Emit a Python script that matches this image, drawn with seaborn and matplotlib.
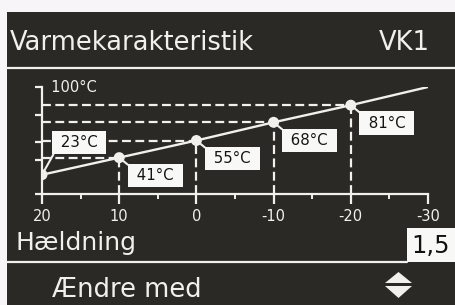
import matplotlib
matplotlib.use("Agg")
import matplotlib.pyplot as plt
import seaborn as sns
import pandas as pd
from matplotlib.patches import Rectangle, Polygon
from matplotlib.transforms import Affine2D

# ---- data ----
outdoor_temps = [20, 10, 0, -10, -20]          # x of labelled points
curve_levels = [18, 34, 50, 67, 83]            # drawn height of points (axis %)
flow_temps = [23, 41, 55, 68, 81]              # label values (°C)
line_outdoor = [20, 10, 0, -10, -20, -30]
line_levels = [18, 34, 50, 67, 83, 100]
x_ticks = [20, 10, 0, -10, -20, -30]
x_minor = [15, 5, -5, -15, -25]
y_ticks = [0, 32, 49, 74, 100]
title = "Varmekarakteristik"
circuit = "VK1"
slope_label = "Hældning"
slope_value = "1,5"
change_label = "Ændre med"

W, H = 455, 305
BG = "#2b2926"
FG = "#f2f0ec"

sns.set_style("dark")
plt.rcParams["font.family"] = ["DejaVu Sans"]

fig = plt.figure(figsize=(W / 100, H / 100), dpi=100)
fig.patch.set_facecolor("#f7f5f8")
px = Affine2D().scale(1 / W, -1 / H).translate(0, 1) + fig.transFigure

fig.patches.append(Rectangle((7, 12), W - 7, H - 12, transform=px,
                             facecolor=BG, edgecolor="none", zorder=-10))
# separators
fig.add_artist(plt.Line2D([7, W], [68, 68], transform=px, color=FG, lw=1.6))
fig.add_artist(plt.Line2D([7, 407], [262, 262], transform=px, color=FG, lw=1.6))

fig.text(10, 50, title, transform=px, color=FG, fontsize=18.5, va="baseline", ha="left")
fig.text(430, 50, circuit, transform=px, color=FG, fontsize=18.5, va="baseline", ha="right")
fig.text(16, 250, slope_label, transform=px, color=FG, fontsize=18, va="baseline", ha="left")
fig.patches.append(Rectangle((407, 228), 48, 34, transform=px,
                             facecolor="#f8f8f6", edgecolor="none"))
fig.text(431, 253, slope_value, transform=px, color="#111111", fontsize=17.5,
         va="baseline", ha="center")
fig.text(52, 297, change_label, transform=px, color=FG, fontsize=18.5, va="baseline", ha="left")
fig.patches.append(Polygon([(385, 283), (412, 283), (398.5, 272)], closed=True,
                           transform=px, facecolor=FG, edgecolor="none"))
fig.patches.append(Polygon([(385, 286), (412, 286), (398.5, 298)], closed=True,
                           transform=px, facecolor=FG, edgecolor="none"))

# ---- chart ----
ax = fig.add_axes([42 / W, 1 - 194 / H, (428 - 42) / W, (194 - 87) / H])
ax.set_zorder(5)
ax.set_facecolor("none")
ax.patch.set_alpha(0)

df_line = pd.DataFrame({"out": line_outdoor, "lvl": line_levels})
df_pts = pd.DataFrame({"out": outdoor_temps, "lvl": curve_levels, "flow": flow_temps})

dash = (0, (4, 2))
for xo, yl in zip(outdoor_temps, curve_levels):
    if xo != x_ticks[0]:
        ax.plot([x_ticks[0], xo], [yl, yl], color=FG, lw=1.6, linestyle=dash, zorder=2)
        ax.plot([xo, xo], [0, yl], color=FG, lw=1.6, linestyle=dash, zorder=2)

sns.lineplot(data=df_line, x="out", y="lvl", ax=ax, color=FG, lw=1.7, zorder=3,
             sort=False, legend=False)
sns.scatterplot(data=df_pts, x="out", y="lvl", ax=ax, color=FG, s=62,
                edgecolor="none", zorder=4, legend=False)

for i, (xo, yl, t) in enumerate(zip(outdoor_temps, curve_levels, flow_temps)):
    if i == 0:
        off, rel = (37, 32), (0, 0)
    else:
        off, rel = (36, -18), (0, 1)
    ax.annotate(f" {t}°C ", xy=(xo, yl), xytext=off, textcoords="offset pixels",
                ha="center", va="center", fontsize=10.8, color="#141414", zorder=5,
                bbox=dict(boxstyle="square,pad=0.28", facecolor="#f8f8f6", edgecolor="none"),
                arrowprops=dict(arrowstyle="-", color=FG, lw=1.5, shrinkA=0, shrinkB=0,
                                relpos=rel))

ax.text(20, 100, "  100°C", color=FG, fontsize=10.5, ha="left", va="center",
        transform=ax.transData)

ax.set_xlim(20, -30)
ax.set_ylim(0, 100)
ax.set_xticks(x_ticks)
ax.set_xticklabels([str(v) for v in x_ticks])
ax.set_xticks(x_minor, minor=True)
ax.set_yticks(y_ticks)
ax.set_yticklabels([])
ax.set_xlabel("")
ax.set_ylabel("")
ax.grid(False)
for s in ("top", "right"):
    ax.spines[s].set_visible(False)
for s in ("left", "bottom"):
    ax.spines[s].set_visible(True)
    ax.spines[s].set_color(FG)
    ax.spines[s].set_linewidth(1.6)
ax.tick_params(axis="x", which="major", direction="out", length=7.5, width=1.6,
               colors=FG, labelsize=10.5, pad=3.5, bottom=True)
ax.tick_params(axis="x", which="minor", direction="out", length=3.8, width=1.4,
               colors=FG, bottom=True)
ax.tick_params(axis="y", which="major", direction="out", length=5, width=1.6,
               colors=FG, left=True)

fig.savefig("out.png", dpi=100, facecolor=fig.get_facecolor())
